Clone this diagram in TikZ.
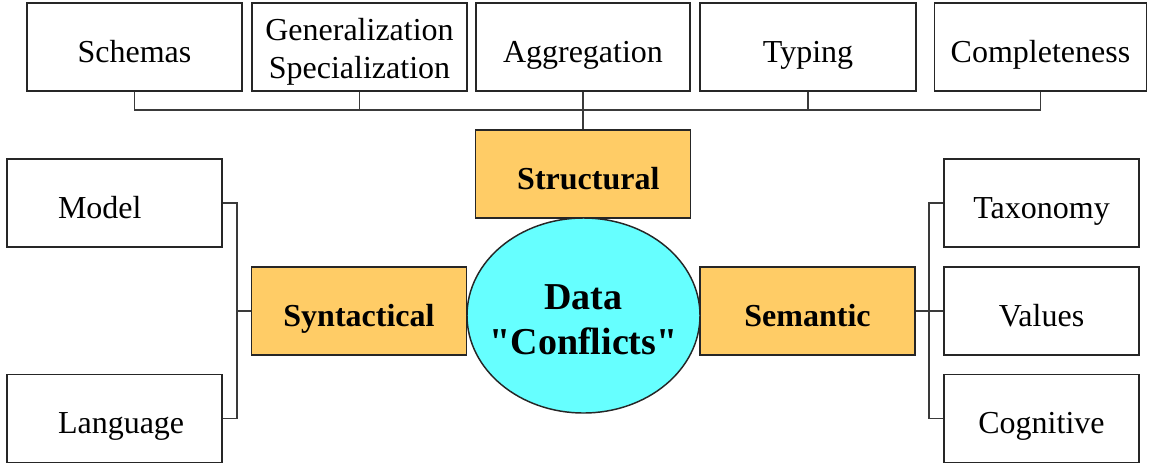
\documentclass[tikz,border=0pt]{standalone}
\usepackage{fontspec}
\setmainfont{Liberation Serif}[Ligatures=TeXOff]
\usetikzlibrary{calc,positioning,shapes.geometric}
\definecolor{boxorange}{HTML}{FFCC66}
\definecolor{boxcyan}{HTML}{66FFFF}
\definecolor{edgegray}{HTML}{3A3A3A}
\newcommand\px{0.75pt}

\begin{document}
\begin{tikzpicture}[x=0.75pt,y=-0.75pt,
  leaf/.style={draw=black!85,line width=1.1pt,fill=white,minimum width=215*\px,minimum height=88*\px,
    inner sep=0pt,font=\fontsize{24}{28.8}\selectfont,text height=22.5pt,text depth=0pt},
  group/.style={leaf,fill=boxorange,font=\fontsize{24}{28.8}\selectfont\bfseries},
  core/.style={draw=black!85,line width=1.1pt,ellipse,fill=boxcyan,minimum width=233*\px,minimum height=195*\px,
    inner xsep=-9pt,inner ysep=0pt,align=center,font=\fontsize{28.5}{34}\selectfont\bfseries},
  link/.style={draw=edgegray,line width=0.8pt}]
	  \useasboundingbox (0,0) rectangle (1150,465);
	  % top row
	  \node[leaf] (schemas) at (134.5,47) {Schemas};
	  \node[leaf,text height=,text depth=,align=center] (genspec) at (359.5,47) {\rule{0pt}{24pt}Generalization\\Specialization};
	  \node[leaf,minimum width=214*\px] (aggregation) at (583,47) {Aggregation};
	  \node[leaf,minimum width=216*\px] (typing) at (808,47) {Typing};
	  \node[leaf,minimum width=212*\px] (completeness) at (1040.5,47) {Completeness};
	  % groups
	  \node[group] (structural) at (583,174) {\hspace*{8pt}Structural};
	  \node[group] (syntactical) at (359,311) {Syntactical};
	  \node[group] (semantic) at (807.5,311) {Semantic};
	  \node[core] (conflicts) at (583.5,315.5) {\rule{0pt}{25.5pt}Data\\"Conflicts"};
	  % side leaves
	  \node[leaf,text width=113*\px,align=left] (model) at (114.5,203) {\mbox{Model}};
	  \node[leaf,text width=113*\px,align=left] (language) at (114.5,418.5) {\mbox{Language}};
	  \node[leaf,minimum width=195*\px] (taxonomy) at (1041.5,203) {Taxonomy};
	  \node[leaf,minimum width=195*\px] (values) at (1041.5,311) {Values};
	  \node[leaf,minimum width=195*\px] (cognitive) at (1041.5,418.5) {Cognitive};
	  \coordinate (topbus) at (583,110);
	  \coordinate (leftbus) at (237,311);
	  \coordinate (rightbus) at (929,311);
	  \draw[link] (schemas.south) |- (topbus) -| (completeness.south);
	  \path[link]
(genspec.south) edge (genspec.south |- topbus)
(aggregation.south) edge (topbus)
(typing.south) edge (typing.south |- topbus)
;
	  \draw[link,line width=1.5pt] (topbus) -- (structural.north);
	  \draw[link] (model.east) -| (leftbus) |- (language.east);
	  \draw[link] (leftbus) -- (syntactical.west);
	  \draw[link] (taxonomy.west) -| (rightbus) |- (cognitive.west);
	  \draw[link] (semantic.east) -- (values.west);
	\end{tikzpicture}
\end{document}
